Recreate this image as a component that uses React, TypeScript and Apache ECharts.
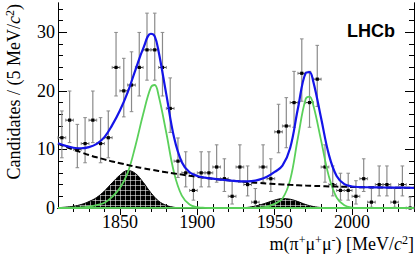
import React, { useEffect, useRef } from "react";
import * as echarts from "echarts";

// ---- data ----
const BIN_CENTERS = [
  1812.5, 1817.5, 1822.5, 1827.5, 1832.5, 1837.5, 1842.5, 1847.5, 1852.5, 1857.5,
  1862.5, 1867.5, 1872.5, 1877.5, 1882.5, 1887.5, 1892.5, 1897.5, 1902.5, 1907.5,
  1912.5, 1917.5, 1922.5, 1927.5, 1932.5, 1937.5, 1942.5, 1947.5, 1952.5, 1957.5,
  1962.5, 1967.5, 1972.5, 1977.5, 1982.5, 1987.5, 1992.5, 1997.5, 2002.5, 2007.5,
  2012.5, 2017.5, 2022.5, 2027.5, 2032.5, 2037.5,
];
const COUNTS = [
  12, 15, 10, 11, 15, 11, 12, 24, 20, 21,
  24, 27, 27, 24, 17, 8, 6, 3, 6, 6,
  7, 5, 2, 7, 4, 1, 7, 5, 13, 14,
  18, 23, 18, 22, 7, 4, 3, 3, 2, 5,
  1, 4, 4, 1, 4, 0,
];

// total fit (blue)
const TOTAL_X = [
  1810, 1815, 1820, 1825, 1830, 1835, 1840, 1845, 1850, 1855, 1860, 1865, 1870, 1872.5,
  1875, 1880, 1885, 1890, 1895, 1900, 1905, 1910, 1915, 1920, 1925, 1930, 1935, 1940,
  1945, 1950, 1955, 1960, 1965, 1970, 1972.5, 1975, 1980, 1985, 1990, 1995, 2000, 2005,
  2010, 2015, 2020, 2025, 2030, 2035, 2040,
];
const TOTAL_Y = [
  11.05, 10.61, 10.29, 10.2, 10.4, 10.95, 12.1, 14.15, 16.65, 19.75, 23.55, 27.2, 29.75, 29.3,
  26.72, 19.35, 12.02, 7.82, 6.1, 5.47, 5.18, 5.0, 4.85, 4.72, 4.6, 4.53, 4.59, 4.85,
  5.33, 6.15, 7.22, 10.25, 16.99, 23.03, 23.2, 21.53, 15.31, 9.11, 5.45, 4.07, 3.67, 3.57,
  3.54, 3.52, 3.5, 3.48, 3.47, 3.46, 3.45,
];

// combinatorial background (dashed)
const BKG_X = [
  1810, 1815, 1820, 1825, 1830, 1835, 1840, 1845, 1850, 1855, 1860, 1865, 1870, 1875,
  1880, 1885, 1890, 1895, 1900, 1905, 1910, 1915, 1920, 1925, 1930, 1935, 1940, 1945,
  1950, 1955, 1960, 1965, 1970, 1975, 1980, 1985, 1990, 1995, 2000, 2005, 2010, 2015,
  2020, 2025, 2030, 2035, 2040,
];
const BKG_Y = [
  11.0, 10.45, 9.95, 9.5, 9.05, 8.65, 8.3, 7.95, 7.65, 7.35, 7.05, 6.8, 6.55, 6.32,
  6.1, 5.9, 5.7, 5.5, 5.32, 5.15, 5.0, 4.85, 4.72, 4.6, 4.48, 4.37, 4.27, 4.18,
  4.1, 4.02, 3.95, 3.89, 3.83, 3.78, 3.73, 3.69, 3.65, 3.62, 3.59, 3.56, 3.54, 3.52,
  3.5, 3.48, 3.47, 3.46, 3.45,
];

// D+ signal (green)
const DPLUS_X = [
  1810, 1815, 1820, 1825, 1830, 1835, 1840, 1845, 1850, 1855, 1860, 1865, 1870, 1872.5,
  1875, 1880, 1885, 1890, 1895, 1900, 1905, 1910, 2040,
];
const DPLUS_Y = [
  0, 0.01, 0.04, 0.1, 0.25, 0.5, 0.9, 1.9, 3.4, 6.0, 10.6, 16.0, 20.6, 21.0,
  19.2, 12.8, 6.0, 2.1, 0.6, 0.15, 0.03, 0, 0,
];

// Ds+ signal (green)
const DS_X = [
  1810, 1935, 1940, 1945, 1950, 1955, 1960, 1965, 1970, 1972.5, 1975, 1980, 1985, 1990,
  1995, 2000, 2005, 2010, 2040,
];
const DS_Y = [
  0, 0.02, 0.08, 0.25, 0.7, 1.6, 4.8, 12.0, 18.6, 19.0, 17.5, 11.5, 5.4, 1.8,
  0.45, 0.08, 0.01, 0, 0,
];

// peaking backgrounds (hatched)
const PEAK1_X = [
  1810, 1815, 1820, 1825, 1830, 1835, 1840, 1845, 1850, 1855, 1860, 1865, 1870, 1875,
  1880, 1885, 1890, 1895,
];
const PEAK1_Y = [
  0.05, 0.15, 0.3, 0.6, 1.1, 1.8, 2.9, 4.3, 5.6, 6.4, 5.9, 4.4, 2.6, 1.2,
  0.45, 0.12, 0.02, 0,
];
const PEAK2_X = [1925, 1930, 1935, 1940, 1945, 1950, 1955, 1960, 1965, 1970, 1975, 1980, 1985, 1990];
const PEAK2_Y = [0, 0.05, 0.2, 0.5, 0.9, 1.35, 1.6, 1.5, 1.1, 0.6, 0.25, 0.08, 0.02, 0];

const X_LABELS = [1850, 1900, 1950, 2000];
const X_MINOR = [1820, 1830, 1840, 1860, 1870, 1880, 1890, 1910, 1920, 1930, 1940, 1960, 1970, 1980, 1990, 2010, 2020, 2030, 2040];
const Y_LABELS = [0, 10, 20, 30];
const Y_MINOR = [2, 4, 6, 8, 12, 14, 16, 18, 22, 24, 26, 28, 32, 34];

const X_MIN = 1810;
const X_MAX = 2040;
const Y_MIN = 0;
const Y_MAX = 35;
const BIN_HALF = 2.5;

// Poisson (Garwood) interval approximation for the error bars of the counts
const errLow = (n: number) => (n > 0 ? Math.sqrt(n - 0.25) : 0);
const errHigh = (n: number) => Math.sqrt(n + 0.75) + 1;

const zip = (xs: number[], ys: number[]) => xs.map((x, i) => [x, ys[i]]);

const SERIF = "'Liberation Serif', 'Times New Roman', serif";

function makeHatch(): any {
  const c = document.createElement("canvas");
  c.width = 5;
  c.height = 5;
  const ctx = c.getContext("2d")!;
  ctx.fillStyle = "#000";
  ctx.fillRect(0, 0, 5, 5);
  ctx.fillStyle = "rgba(255,255,255,0.55)";
  ctx.fillRect(0, 0, 5, 1);
  ctx.fillRect(0, 0, 1, 5);
  return { image: c.toDataURL(), repeat: "repeat", imageWidth: 5, imageHeight: 5 };
}

export default function App() {
  const ref = useRef<HTMLDivElement>(null);
  useEffect(() => {
    if (!ref.current) return;
    const chart = echarts.init(ref.current, undefined, { renderer: "svg" });
    const hatch = makeHatch();

    const gridRect = { left: 58, right: 5, top: 3, bottom: 53 };
    const axisLine = { show: true, lineStyle: { color: "#000", width: 1 } };
    const plain = (v: number) => String(v);

    const xBase = (gridIndex: number, position: string) => ({
      type: "value",
      gridIndex,
      position,
      min: X_MIN,
      max: X_MAX,
      splitLine: { show: false },
      axisLine,
    });
    const yBase = (gridIndex: number, position: string) => ({
      type: "value",
      gridIndex,
      position,
      min: Y_MIN,
      max: Y_MAX,
      splitLine: { show: false },
      axisLine,
    });

    const option: any = {
      animation: false,
      backgroundColor: "#fff",
      grid: [
        { ...gridRect, show: false },
        { ...gridRect, show: false },
      ],
      xAxis: [
        {
          ...xBase(0, "bottom"),
          axisTick: { show: true, inside: true, length: 7, customValues: X_LABELS, lineStyle: { color: "#000" } },
          axisLabel: { show: true, customValues: X_LABELS, formatter: plain, fontFamily: SERIF, fontSize: 18, color: "#000", margin: 5 },
        },
        {
          ...xBase(0, "top"),
          axisTick: { show: true, inside: true, length: 7, customValues: X_LABELS, lineStyle: { color: "#000" } },
          axisLabel: { show: false },
        },
        {
          ...xBase(1, "bottom"),
          axisTick: { show: true, inside: true, length: 4, customValues: X_MINOR, lineStyle: { color: "#000" } },
          axisLabel: { show: false },
        },
        {
          ...xBase(1, "top"),
          axisTick: { show: true, inside: true, length: 4, customValues: X_MINOR, lineStyle: { color: "#000" } },
          axisLabel: { show: false },
        },
      ],
      yAxis: [
        {
          ...yBase(0, "left"),
          axisTick: { show: true, inside: true, length: 9, customValues: Y_LABELS, lineStyle: { color: "#000" } },
          axisLabel: { show: true, customValues: Y_LABELS, formatter: plain, fontFamily: SERIF, fontSize: 18, color: "#000", margin: 3 },
        },
        {
          ...yBase(0, "right"),
          axisTick: { show: true, inside: true, length: 9, customValues: Y_LABELS, lineStyle: { color: "#000" } },
          axisLabel: { show: false },
        },
        {
          ...yBase(1, "left"),
          axisTick: { show: true, inside: true, length: 5, customValues: Y_MINOR, lineStyle: { color: "#000" } },
          axisLabel: { show: false },
        },
        {
          ...yBase(1, "right"),
          axisTick: { show: true, inside: true, length: 5, customValues: Y_MINOR, lineStyle: { color: "#000" } },
          axisLabel: { show: false },
        },
      ],
      series: [
        {
          type: "line",
          name: "peak1",
          xAxisIndex: 0,
          yAxisIndex: 0,
          data: zip(PEAK1_X, PEAK1_Y),
          smooth: 0.4,
          showSymbol: false,
          lineStyle: { color: "#000", width: 1 },
          areaStyle: { color: hatch, opacity: 1, origin: "start" },
          z: 1,
        },
        {
          type: "line",
          name: "peak2",
          xAxisIndex: 0,
          yAxisIndex: 0,
          data: zip(PEAK2_X, PEAK2_Y),
          smooth: 0.4,
          showSymbol: false,
          lineStyle: { color: "#000", width: 1 },
          areaStyle: { color: hatch, opacity: 1, origin: "start" },
          z: 1,
        },
        {
          type: "custom",
          name: "data",
          xAxisIndex: 0,
          yAxisIndex: 0,
          data: BIN_CENTERS.map((x, i) => [x, COUNTS[i], errLow(COUNTS[i]), errHigh(COUNTS[i])]),
          z: 2,
          renderItem: (_p: any, api: any) => {
            const x = api.value(0);
            const y = api.value(1);
            const lo = api.value(2);
            const hi = api.value(3);
            const c = api.coord([x, y]);
            const t = api.coord([x, y + hi]);
            const b = api.coord([x, y - lo]);
            const l = api.coord([x - BIN_HALF, y]);
            const r = api.coord([x + BIN_HALF, y]);
            const grey = "#8a8a8a";
            const dark = "#333";
            return {
              type: "group",
              children: [
                { type: "line", shape: { x1: c[0], y1: t[1], x2: c[0], y2: b[1] }, style: { stroke: grey, lineWidth: 1.2 } },
                { type: "line", shape: { x1: c[0] - 1.8, y1: t[1], x2: c[0] + 1.8, y2: t[1] }, style: { stroke: grey, lineWidth: 1 } },
                { type: "line", shape: { x1: c[0] - 1.8, y1: b[1], x2: c[0] + 1.8, y2: b[1] }, style: { stroke: grey, lineWidth: 1 } },
                { type: "line", shape: { x1: l[0], y1: c[1], x2: r[0], y2: c[1] }, style: { stroke: dark, lineWidth: 1 } },
                { type: "line", shape: { x1: l[0], y1: c[1] - 1.5, x2: l[0], y2: c[1] + 1.5 }, style: { stroke: grey, lineWidth: 1 } },
                { type: "line", shape: { x1: r[0], y1: c[1] - 1.5, x2: r[0], y2: c[1] + 1.5 }, style: { stroke: grey, lineWidth: 1 } },
                { type: "rect", shape: { x: c[0] - 1.6, y: c[1] - 1.6, width: 3.2, height: 3.2 }, style: { fill: "#000" } },
              ],
            };
          },
        },
        {
          type: "line",
          name: "D+",
          xAxisIndex: 0,
          yAxisIndex: 0,
          data: zip(DPLUS_X, DPLUS_Y),
          smooth: 0.4,
          showSymbol: false,
          lineStyle: { color: "#5ad05a", width: 1.8 },
          z: 3,
        },
        {
          type: "line",
          name: "Ds+",
          xAxisIndex: 0,
          yAxisIndex: 0,
          data: zip(DS_X, DS_Y),
          smooth: 0.4,
          showSymbol: false,
          lineStyle: { color: "#5ad05a", width: 1.8 },
          z: 3,
        },
        {
          type: "line",
          name: "bkg",
          xAxisIndex: 0,
          yAxisIndex: 0,
          data: zip(BKG_X, BKG_Y),
          smooth: 0.4,
          showSymbol: false,
          lineStyle: { color: "#000", width: 2, type: [6, 3] },
          z: 4,
        },
        {
          type: "line",
          name: "total",
          xAxisIndex: 0,
          yAxisIndex: 0,
          data: zip(TOTAL_X, TOTAL_Y),
          smooth: 0.4,
          showSymbol: false,
          lineStyle: { color: "#1414e8", width: 2.2 },
          z: 5,
        },
      ],
      graphic: [
        {
          type: "text",
          x: 14,
          y: 4,
          rotation: Math.PI / 2,
          style: {
            text: "{a|Candidates / (5 MeV/}{i|c}{s|2}{a|)}",
            align: "right",
            verticalAlign: "middle",
            rich: {
              a: { fontFamily: SERIF, fontSize: 18, fill: "#000" },
              i: { fontFamily: SERIF, fontSize: 18, fontStyle: "italic", fill: "#000" },
              s: { fontFamily: SERIF, fontSize: 12, fill: "#000", padding: [0, 0, 8, 0] },
            },
          },
        },
        {
          type: "text",
          x: 414,
          y: 244,
          style: {
            text: "{a|m(π}{s|+}{a|μ}{s|+}{a|μ}{s|-}{a|) [MeV/}{i|c}{s|2}{a|]}",
            align: "right",
            verticalAlign: "middle",
            rich: {
              a: { fontFamily: SERIF, fontSize: 18, fill: "#000" },
              i: { fontFamily: SERIF, fontSize: 18, fontStyle: "italic", fill: "#000" },
              s: { fontFamily: SERIF, fontSize: 12, fill: "#000", padding: [0, 0, 8, 0] },
            },
          },
        },
        {
          type: "text",
          x: 347,
          y: 31,
          style: {
            text: "LHCb",
            fontFamily: "'Liberation Sans', Arial, sans-serif",
            fontWeight: "bold",
            fontSize: 18,
            fill: "#000",
            align: "left",
            verticalAlign: "middle",
          },
        },
      ],
    };
    chart.setOption(option);
    return () => chart.dispose();
  }, []);

  return (
    <div
      ref={ref}
      style={{ position: "fixed", left: 0, top: 0, width: 419, height: 261, background: "#fff" }}
    />
  );
}
